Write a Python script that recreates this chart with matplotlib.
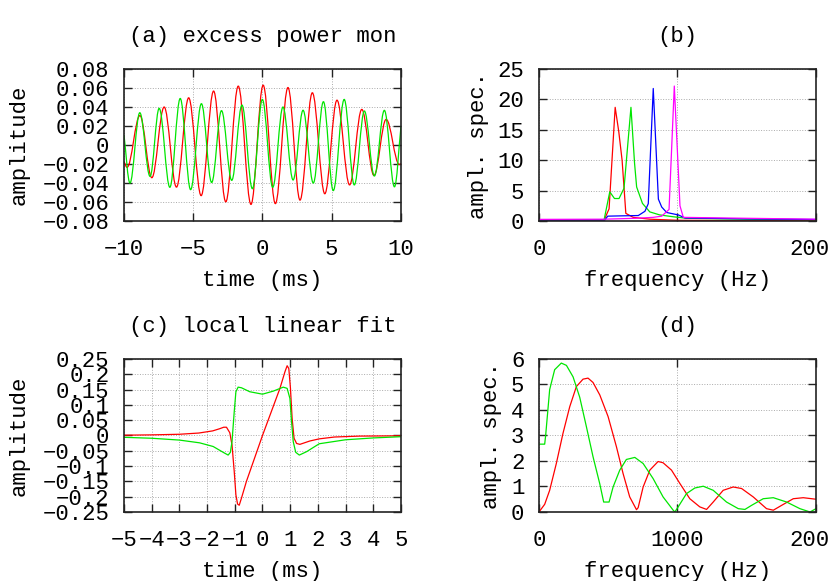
import matplotlib
matplotlib.use('Agg')
import matplotlib.pyplot as plt
from matplotlib.path import Path
from matplotlib.patches import PathPatch

plt.rcParams['font.family'] = ['Liberation Mono', 'DejaVu Sans']
plt.rcParams['font.size'] = 16

# (a) extrema of the two waveforms (edges included)
red_a_t = [-10, -9.78, -8.85, -7.99, -7.1, -6.21, -5.33, -4.43, -3.53, -2.65, -1.75, -0.83,
           0.05, 0.93, 1.84, 2.71, 3.6, 4.5, 5.38, 6.29, 7.17, 8.05, 8.93, 9.88, 10]
red_a_v = [-0.0175, -0.0235, 0.031, -0.0344, 0.040, -0.0443, 0.0497, -0.0533, 0.0568, -0.0598,
           0.062, -0.0625, 0.063, -0.0617, 0.0605, -0.058, 0.055, -0.0513, 0.0472, -0.042,
           0.0375, -0.0321, 0.027, -0.0205, -0.0195]
green_a_t = [-10, -9.57, -8.86, -8.12, -7.46, -6.69, -5.94, -5.19, -4.41, -3.67, -2.96, -2.22,
             -1.48, -0.73, -0.01, 0.74, 1.48, 2.21, 2.93, 3.67, 4.4, 5.11, 5.9, 6.63, 7.36,
             8.08, 8.8, 9.53, 10]
green_a_v = [0.0105, -0.040, 0.034, -0.033, 0.0386, -0.0445, 0.049, -0.047, 0.0435, -0.0395,
             0.0362, -0.0372, 0.042, -0.046, 0.048, -0.0445, 0.040, -0.0368, 0.0366, -0.040,
             0.0456, -0.048, 0.048, -0.042, 0.0358, -0.0326, 0.0365, -0.044, 0.0195]

# (b) amplitude spectra
red_b_f = [0, 470, 506, 550, 576, 600, 627, 680, 800, 1000, 1500, 2000]
red_b_v = [0.12, 0.15, 2.0, 18.7, 14.7, 10.0, 1.26, 0.6, 0.3, 0.12, 0.08, 0.06]
green_b_f = [0, 470, 511, 545, 578, 614, 664, 690, 705, 747, 800, 872, 969, 1065, 1500, 2000]
green_b_v = [0.2, 0.2, 4.8, 3.7, 3.7, 5.4, 18.7, 9.5, 5.6, 2.9, 1.5, 1.0, 0.7, 0.45, 0.3, 0.2]
blue_b_f = [0, 475, 496, 600, 717, 765, 789, 825, 862, 886, 922, 1006, 1054, 1500, 2000]
blue_b_v = [0.15, 0.15, 0.8, 0.85, 0.9, 1.6, 2.85, 21.8, 3.6, 2.3, 1.4, 1.0, 0.5, 0.35, 0.25]
mag_b_f = [0, 475, 700, 824, 886, 939, 977, 1018, 1042, 1500, 2000]
mag_b_v = [0.27, 0.3, 0.45, 0.6, 0.8, 1.9, 22.2, 2.5, 0.6, 0.45, 0.3]

# (c) local linear fit
red_c_t = [-5, -4, -3, -2.3, -1.8, -1.55, -1.4, -1.3, -1.18, -1.1, -1.02, -0.96, -0.9, -0.84,
           -0.76, -0.58, 0, 0.63, 0.81, 0.89, 0.95, 1.01, 1.07, 1.14, 1.23, 1.35, 1.71, 2.05,
           2.6, 3.5, 5]
red_c_v = [0.001, 0.002, 0.004, 0.008, 0.015, 0.022, 0.027, 0.027, 0.009, -0.031, -0.118,
           -0.194, -0.224, -0.228, -0.205, -0.15, 0.0, 0.154, 0.208, 0.228, 0.219, 0.154,
           0.056, -0.009, -0.026, -0.029, -0.018, -0.011, -0.005, -0.002, -0.001]
green_c_t = [-5, -4, -3, -2.27, -1.78, -1.42, -1.24, -1.16, -1.1, -1.02, -0.96, -0.88, -0.76,
             -0.46, 0, 0.39, 0.75, 0.89, 0.99, 1.05, 1.11, 1.2, 1.33, 1.59, 2.05, 3, 4, 5]
green_c_v = [-0.006, -0.009, -0.015, -0.024, -0.036, -0.055, -0.064, -0.055, -0.02, 0.078,
             0.143, 0.158, 0.156, 0.143, 0.135, 0.145, 0.158, 0.154, 0.121, 0.045, -0.02,
             -0.055, -0.064, -0.053, -0.027, -0.014, -0.008, -0.004]

# (d) spectra of the fits
red_d_f = [0, 41, 77, 125, 173, 222, 270, 318, 354, 390, 439, 499, 559, 607, 655, 704, 716,
           752, 800, 860, 896, 957, 1017, 1089, 1161, 1210, 1258, 1330, 1402, 1463, 1547,
           1643, 1692, 1752, 1836, 1908, 2000]
red_d_v = [0.0, 0.3, 0.85, 1.9, 3.08, 4.13, 4.92, 5.21, 5.25, 5.08, 4.59, 3.74, 2.56, 1.51,
           0.59, 0.09, 0.17, 0.98, 1.64, 1.98, 1.93, 1.64, 1.12, 0.52, 0.2, 0.1, 0.39, 0.85,
           0.98, 0.92, 0.59, 0.13, 0.07, 0.26, 0.52, 0.56, 0.5]
green_d_f = [0, 41, 48, 77, 113, 161, 198, 246, 294, 342, 390, 439, 467, 506, 535, 583, 631,
             692, 752, 824, 896, 969, 981, 1005, 1065, 1125, 1186, 1258, 1354, 1439, 1487,
             1535, 1619, 1692, 1788, 1884, 1957, 2000]
green_d_v = [2.66, 2.66, 3.0, 4.8, 5.58, 5.84, 5.75, 5.3, 4.5, 3.35, 2.17, 1.1, 0.39, 0.39,
             0.98, 1.64, 2.06, 2.14, 1.9, 1.31, 0.59, 0.07, 0.0, 0.2, 0.72, 0.94, 1.01, 0.85,
             0.39, 0.13, 0.1, 0.26, 0.52, 0.56, 0.39, 0.13, 0.0, 0.13]

# ticks and labels
ticks_a_x = [-10, -5, 0, 5, 10]
labels_a_x = ['\u221210', '\u22125', '0', '5', '10']
ticks_a_y = [0.08, 0.06, 0.04, 0.02, 0, -0.02, -0.04, -0.06, -0.08]
labels_a_y = ['0.08', '0.06', '0.04', '0.02', '0', '\u22120.02', '\u22120.04', '\u22120.06',
              '\u22120.08']
ticks_f = [0, 1000, 2000]
labels_f = ['0', '1000', '2000']
ticks_b_y = [0, 5, 10, 15, 20, 25]
labels_b_y = ['0', '5', '10', '15', '20', '25']
ticks_c_x = [-5, -4, -3, -2, -1, 0, 1, 2, 3, 4, 5]
labels_c_x = ['\u22125', '\u22124', '\u22123', '\u22122', '\u22121', '0', '1', '2', '3', '4', '5']
ticks_c_y = [0.25, 0.2, 0.15, 0.1, 0.05, 0, -0.05, -0.1, -0.15, -0.2, -0.25]
labels_c_y = ['0.25', '0.2', '0.15', '0.1', '0.05', '0', '\u22120.05', '\u22120.1', '\u22120.15',
              '\u22120.2', '\u22120.25']
ticks_d_y = [0, 1, 2, 3, 4, 5, 6]
labels_d_y = ['0', '1', '2', '3', '4', '5', '6']

RED, GREEN, BLUE, MAG = '#ff0000', '#00e600', '#0000ff', '#ff00ff'
LW = 0.9
K = 0.364  # bezier handle for a half-cosine between extrema


def wave(ax, t, v, color):
    # smooth curve through extrema: horizontal tangents at the peaks
    verts = [(t[0], v[0])]
    codes = [Path.MOVETO]
    n = len(t)
    for i in range(1, n):
        d = t[i] - t[i - 1]
        if i == 1:
            c1 = (t[0] + d / 3, v[0] + (v[1] - v[0]) / 3)
        else:
            c1 = (t[i - 1] + K * d, v[i - 1])
        if i == n - 1:
            c2 = (t[i] - d / 3, v[i] - (v[i] - v[i - 1]) / 3)
        else:
            c2 = (t[i] - K * d, v[i])
        verts += [c1, c2, (t[i], v[i])]
        codes += [Path.CURVE4] * 3
    ax.add_patch(PathPatch(Path(verts, codes), fill=False, edgecolor=color, lw=LW))


def style(ax, xlim, ylim, xt, xtl, yt, ytl, title, xlabel, ylabel, ylab_x):
    ax.set_xlim(*xlim)
    ax.set_ylim(*ylim)
    ax.set_xticks(xt)
    ax.set_xticklabels(xtl)
    ax.set_yticks(yt)
    ax.set_yticklabels(ytl)
    ax.tick_params(direction='in', length=6, width=1, top=True, right=True, colors='#222222')
    ax.tick_params(axis='x', pad=13)
    ax.tick_params(axis='y', pad=10.5)
    for lbl in ax.get_xticklabels() + ax.get_yticklabels():
        lbl.set_color('black')
    for s in ax.spines.values():
        s.set_linewidth(1.2)
        s.set_color('#222222')
    ax.grid(True, color='#aaaaaa', linestyle=':', linewidth=0.7)
    ax.set_axisbelow(True)
    ax.text(0.5, 1.215, title, transform=ax.transAxes, ha='center', va='center')
    ax.set_xlabel(xlabel, va='center')
    ax.xaxis.set_label_coords(0.5, -0.39)
    ax.set_ylabel(ylabel, va='center')
    ax.yaxis.set_label_coords(ylab_x, 0.5)


fig = plt.figure(figsize=(8.3, 5.81), dpi=100)
ax_a = fig.add_axes([0.1494, 0.6196, 0.3337, 0.2616])
ax_b = fig.add_axes([0.6494, 0.6196, 0.3337, 0.2616])
ax_c = fig.add_axes([0.1494, 0.1188, 0.3337, 0.2633])
ax_d = fig.add_axes([0.6494, 0.1188, 0.3337, 0.2633])

wave(ax_a, red_a_t, red_a_v, RED)
wave(ax_a, green_a_t, green_a_v, GREEN)
style(ax_a, (-10, 10), (-0.08, 0.08), ticks_a_x, labels_a_x, ticks_a_y, labels_a_y,
      '(a) excess power mon', 'time (ms)', 'amplitude', -0.379)

ax_b.plot(red_b_f, red_b_v, color=RED, lw=LW)
ax_b.plot(green_b_f, green_b_v, color=GREEN, lw=LW)
ax_b.plot(blue_b_f, blue_b_v, color=BLUE, lw=LW)
ax_b.plot(mag_b_f, mag_b_v, color=MAG, lw=LW)
style(ax_b, (0, 2000), (0, 25), ticks_f, labels_f, ticks_b_y, labels_b_y,
      '(b)', 'frequency (Hz)', 'ampl. spec.', -0.220)

ax_c.plot(red_c_t, red_c_v, color=RED, lw=LW)
ax_c.plot(green_c_t, green_c_v, color=GREEN, lw=LW)
style(ax_c, (-5, 5), (-0.25, 0.25), ticks_c_x, labels_c_x, ticks_c_y, labels_c_y,
      '(c) local linear fit', 'time (ms)', 'amplitude', -0.379)

ax_d.plot(red_d_f, red_d_v, color=RED, lw=LW)
ax_d.plot(green_d_f, green_d_v, color=GREEN, lw=LW)
style(ax_d, (0, 2000), (0, 6), ticks_f, labels_f, ticks_d_y, labels_d_y,
      '(d)', 'frequency (Hz)', 'ampl. spec.', -0.173)

fig.savefig('out.png', dpi=100)
